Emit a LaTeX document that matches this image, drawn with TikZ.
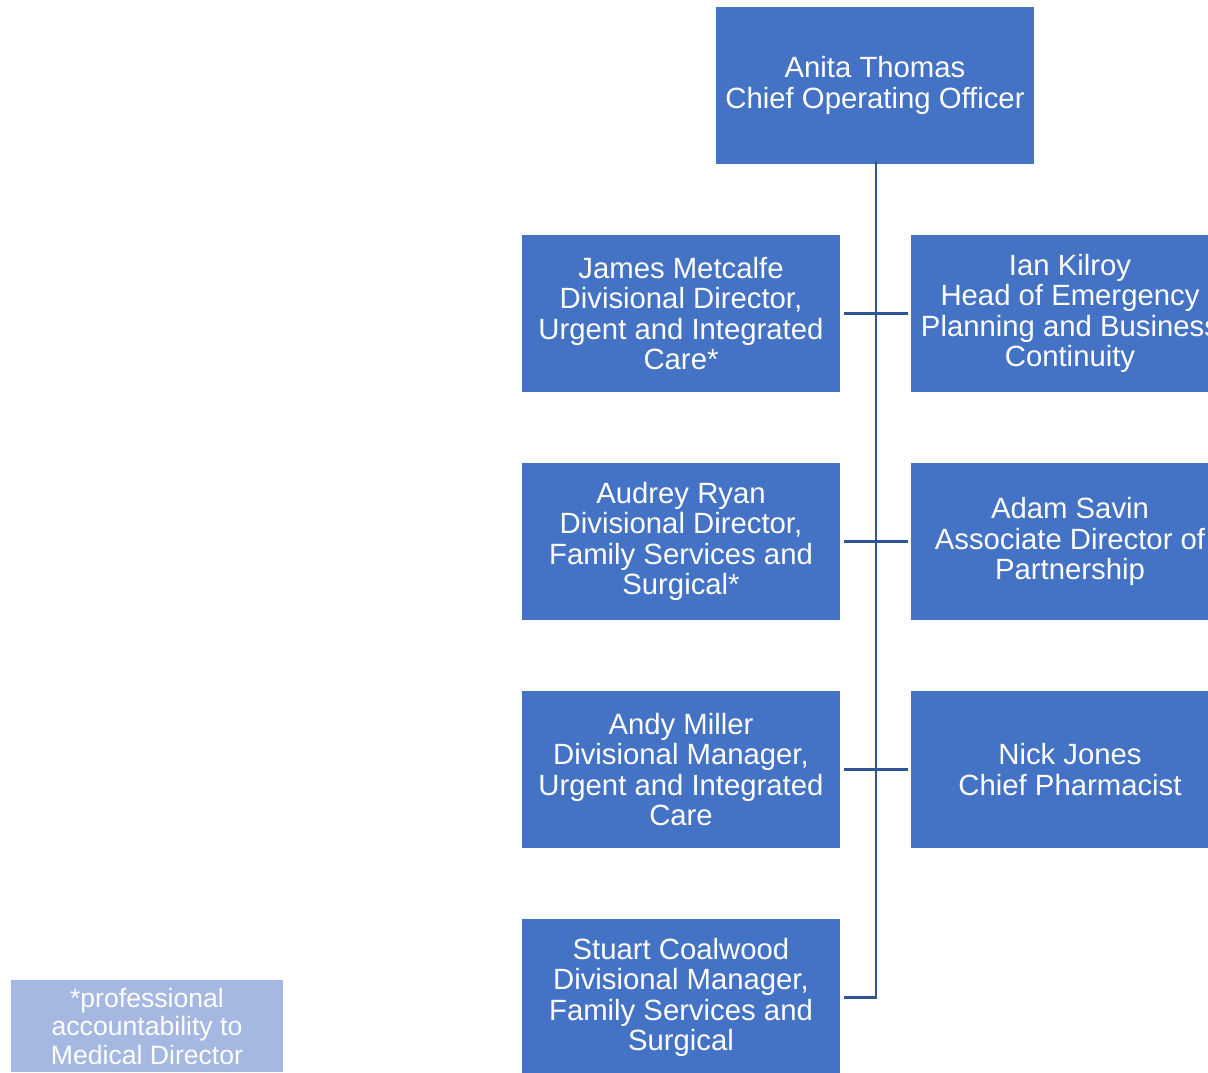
\documentclass[tikz,border=0pt]{standalone}
\usepackage{fontspec}
\setmainfont{Liberation Sans}
\definecolor{boxblue}{HTML}{4472C4}
\definecolor{notebl}{HTML}{A5B8E2}
\definecolor{linebl}{HTML}{2F5597}
\begin{document}
\begin{tikzpicture}[x=1pt,y=-1pt,
  card/.style={rectangle, fill=boxblue, text=white, align=center, inner sep=0pt,
    minimum width=318pt, minimum height=157pt, font=\fontsize{29.3}{30.5}\selectfont},
  notecard/.style={rectangle, fill=notebl, text=white, align=center, inner sep=0pt,
    minimum width=272pt, minimum height=92pt, font=\fontsize{26.6}{28.5}\selectfont},
  link/.style={draw=linebl, line width=2.6pt}]
\useasboundingbox (0,0) rectangle (1208,1072);
\clip (0,0) rectangle (1208,1072);
\node[card] (top) at (875,85.5) {Anita Thomas\\Chief Operating Officer};
\node[card] (jm) at (681,313.5) {James Metcalfe\\Divisional Director,\\Urgent and Integrated\\Care*};
\node[card] (ar) at (681,541.5) {Audrey Ryan\\Divisional Director,\\Family Services and\\Surgical*};
\node[card] (am) at (681,769.5) {Andy Miller\\Divisional Manager,\\Urgent and Integrated\\Care};
\node[card] (sc) at (681,997.5) {Stuart Coalwood\\Divisional Manager,\\Family Services and\\Surgical};
\node[card] (ik) at (1070,313.5) {Ian Kilroy\\Head of Emergency\\Planning and Business\\Continuity};
\node[card] (as) at (1070,541.5) {Adam Savin\\Associate Director of\\Partnership};
\node[card] (nj) at (1070,769.5) {Nick Jones\\Chief Pharmacist};
\node[notecard] (note) at (147,1026) {*professional\\accountability to\\Medical Director};
\coordinate (spine) at ([xshift=1pt,yshift=3pt]top.south);
\draw[link] (spine) |- ([xshift=4pt]sc.east);
\draw[link, shorten <=4pt, shorten >=3pt] (jm.east) -- (ik.west);
\draw[link, shorten <=4pt, shorten >=3pt] (ar.east) -- (as.west);
\draw[link, shorten <=4pt, shorten >=3pt] (am.east) -- (nj.west);
\end{tikzpicture}
\end{document}
